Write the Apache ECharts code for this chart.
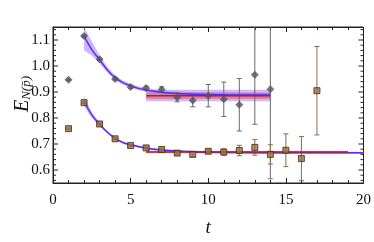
<!DOCTYPE html>
<html><head><meta charset="utf-8">
<script src="https://cdn.jsdelivr.net/npm/echarts@6/dist/echarts.min.js"></script>
<style>html,body{margin:0;padding:0;background:#fff}#c{width:374px;height:242px}</style>
</head><body><div id="c"></div>
<script>
// ---- data ----
const tA = [1,2,3,4,5,6,7,8,9,10,11,12,13,14];
const yA = [0.947,1.115,1.026,0.950,0.919,0.915,0.910,0.879,0.867,0.886,0.872,0.851,0.966,0.911];
const eA = [0.003,0.004,0.004,0.004,0.005,0.007,0.010,0.017,0.024,0.043,0.066,0.101,0.190,0.345];

const tB = [1,2,3,4,5,6,7,8,9,10,11,12,13,14,15,16,17];
const yB = [0.759,0.859,0.777,0.720,0.694,0.685,0.679,0.665,0.660,0.672,0.669,0.675,0.687,0.660,0.676,0.644,0.905];
const eB = [0.002,0.003,0.003,0.003,0.003,0.004,0.005,0.006,0.008,0.008,0.012,0.020,0.030,0.037,0.063,0.085,0.170];

// exponential fit curves
const fitAT  = [2,2.5,3,3.5,4,4.5,5,5.5,6,6.5,7,7.5,8,9,10,11,12,13,14];
const fitAY  = [1.115,1.063,1.024,0.985,0.955,0.936,0.924,0.914,0.908,0.903,0.899,0.896,0.894,0.891,0.890,0.889,0.888,0.888,0.888];
const fitALo = [1.060,1.040,1.010,0.975,0.946,0.928,0.917,0.907,0.900,0.895,0.891,0.888,0.886,0.884,0.882,0.881,0.880,0.880,0.880];
const fitAHi = [1.150,1.095,1.040,0.996,0.964,0.944,0.932,0.922,0.916,0.911,0.907,0.904,0.902,0.899,0.898,0.897,0.896,0.896,0.896];

const fitBT  = [2,2.5,3,3.5,4,4.5,5,5.5,6,7,8,9,10,12,14,16,18,20];
const fitBY  = [0.864,0.812,0.776,0.745,0.722,0.706,0.697,0.690,0.684,0.677,0.673,0.670,0.668,0.667,0.666,0.666,0.666,0.666];
const fitBLo = [0.845,0.800,0.769,0.740,0.718,0.702,0.693,0.686,0.680,0.673,0.669,0.666,0.664,0.663,0.662,0.662,0.662,0.662];
const fitBHi = [0.885,0.823,0.783,0.750,0.727,0.710,0.701,0.694,0.688,0.681,0.677,0.674,0.672,0.671,0.670,0.670,0.670,0.670];

// plateau fits
const platAT = [6,14];  const platAY = 0.886; const platALo = 0.873; const platAHi = 0.898;
const platAWideLo = 0.864; const platAWideHi = 0.909;
const platBT = [6,19];  const platBY = 0.669; const platBLo = 0.664; const platBHi = 0.674;

const xTickLabels = [0,5,10,15,20];
const yTickLabels = [0.6,0.7,0.8,0.9,1.0,1.1];

// ---- chart ----
const SERIF = 'Liberation Serif';
const X_MIN = 0, X_MAX = 20, Y_MIN = 0.55, Y_MAX = 1.15;

function bandSeries(ts, lo, hi, color, z) {
  return {
    type: 'custom', coordinateSystem: 'cartesian2d', clip: true, silent: true, z: z,
    data: [[ts[0], lo[0]]],
    renderItem: function (params, api) {
      const pts = [];
      for (let i = 0; i < ts.length; i++) pts.push(api.coord([ts[i], lo[i]]));
      for (let i = ts.length - 1; i >= 0; i--) pts.push(api.coord([ts[i], hi[i]]));
      return { type: 'polygon', shape: { points: pts }, style: { fill: color } };
    }
  };
}

function errSeries(ts, ys, es, color, z) {
  return {
    type: 'custom', coordinateSystem: 'cartesian2d', clip: true, silent: true, z: z,
    data: ts.map((t, i) => [t, ys[i], ys[i] - es[i], ys[i] + es[i]]),
    encode: { x: 0, y: 1 },
    renderItem: function (params, api) {
      const cs = params.coordSys;
      const lo = api.coord([api.value(0), api.value(2)]);
      const hi = api.coord([api.value(0), api.value(3)]);
      const top = Math.max(hi[1], cs.y);
      const bot = Math.min(lo[1], cs.y + cs.height);
      const w = 2.5;
      const st = { stroke: color, lineWidth: 1 };
      const ch = [{ type: 'line', shape: { x1: lo[0], y1: top, x2: lo[0], y2: bot }, style: st }];
      if (hi[1] >= cs.y) ch.push({ type: 'line', shape: { x1: hi[0] - w, y1: hi[1], x2: hi[0] + w, y2: hi[1] }, style: st });
      if (lo[1] <= cs.y + cs.height) ch.push({ type: 'line', shape: { x1: lo[0] - w, y1: lo[1], x2: lo[0] + w, y2: lo[1] }, style: st });
      return { type: 'group', children: ch };
    }
  };
}

// y tick marks (major at labels, minor every 0.02), drawn inward on left and right
const yTickData = [];
yTickLabels.forEach(v => yTickData.push([X_MIN, v, 5]));
for (let k = 28; k <= 57; k++) { if (k % 5 !== 0) yTickData.push([X_MIN, k * 0.02, 3]); }

const yTickSeries = {
  type: 'custom', coordinateSystem: 'cartesian2d', silent: true, z: 20, clip: false,
  data: yTickData,
  renderItem: function (params, api) {
    const l = api.coord([X_MIN, api.value(1)]);
    const r = api.coord([X_MAX, api.value(1)]);
    const len = api.value(2);
    const st = { stroke: '#222', lineWidth: 1 };
    return { type: 'group', children: [
      { type: 'line', shape: { x1: l[0], y1: l[1], x2: l[0] + len, y2: l[1] }, style: st },
      { type: 'line', shape: { x1: r[0], y1: r[1], x2: r[0] - len, y2: r[1] }, style: st }
    ]};
  }
};

const PURPLE = '#5b2cf2';
const PURPLE_BAND = 'rgba(160,130,255,0.55)';
const RED = '#a8203e';
const RED_BAND = 'rgba(225,90,90,0.55)';

function xAxisCfg(pos) {
  return {
    type: 'value', min: X_MIN, max: X_MAX, interval: 5, position: pos,
    axisLine: { show: true, onZero: false, lineStyle: { color: '#222', width: 1 } },
    axisTick: { show: true, inside: true, length: 5, lineStyle: { color: '#222' } },
    minorTick: { show: true, splitNumber: 5, length: 3, lineStyle: { color: '#222' } },
    splitLine: { show: false },
    axisLabel: pos === 'bottom' ? {
      show: true, margin: 10, fontFamily: SERIF, fontSize: 15, color: '#111',
      formatter: v => (xTickLabels.indexOf(v) >= 0 ? String(v) : '')
    } : { show: false },
    name: pos === 'bottom' ? 't' : '',
    nameLocation: 'middle', nameGap: 35,
    nameTextStyle: { fontFamily: SERIF, fontStyle: 'italic', fontSize: 19, color: '#111' }
  };
}

const option = {
  animation: false,
  backgroundColor: '#fff',
  grid: { left: 53, right: 8, top: 27, bottom: 59, show: true, borderColor: '#222', borderWidth: 1 },
  xAxis: [xAxisCfg('bottom'), xAxisCfg('top')],
  yAxis: {
    type: 'value', min: Y_MIN, max: Y_MAX, interval: 0.05,
    axisLine: { show: true, onZero: false, lineStyle: { color: '#222' } },
    axisTick: { show: false },
    splitLine: { show: false },
    axisLabel: {
      margin: 3, fontFamily: SERIF, fontSize: 15, color: '#111',
      formatter: v => (yTickLabels.some(t => Math.abs(t - v) < 1e-6) ? v.toFixed(1) : '')
    }
  },
  graphic: [{
    type: 'text', x: 21, y: 94, rotation: Math.PI / 2,
    style: {
      text: '{e|E}{s|N(p\u0304)}', align: 'center', verticalAlign: 'middle',
      rich: {
        e: { fontFamily: SERIF, fontStyle: 'italic', fontSize: 20, fill: '#111', verticalAlign: 'bottom', lineHeight: 24 },
        s: { fontFamily: SERIF, fontStyle: 'italic', fontSize: 13, fill: '#111', verticalAlign: 'bottom', lineHeight: 24, padding: [9, 0, 0, 0] }
      }
    }
  }],
  series: [
    // bands
    bandSeries(platAT, [platAWideLo, platAWideLo], [platAWideHi, platAWideHi], PURPLE_BAND, 1),
    bandSeries(fitAT, fitALo, fitAHi, PURPLE_BAND, 2),
    bandSeries(platAT, [platALo, platALo], [platAHi, platAHi], RED_BAND, 3),
    bandSeries(fitBT, fitBLo, fitBHi, PURPLE_BAND, 2),
    bandSeries(platBT, [platBLo, platBLo], [platBHi, platBHi], RED_BAND, 3),
    // error bars
    errSeries(tA, yA, eA, '#6a6a6a', 4),
    errSeries(tB, yB, eB, '#8a6a4a', 4),
    // fit lines
    { type: 'line', data: fitAT.map((t, i) => [t, fitAY[i]]), smooth: 0.4, showSymbol: false, symbol: 'none',
      lineStyle: { color: PURPLE, width: 1.5 }, z: 5, silent: true },
    { type: 'line', data: fitBT.map((t, i) => [t, fitBY[i]]), smooth: 0.4, showSymbol: false, symbol: 'none',
      lineStyle: { color: PURPLE, width: 1.5 }, z: 5, silent: true },
    { type: 'line', data: platAT.map(t => [t, platAY]), showSymbol: false, symbol: 'none',
      lineStyle: { color: RED, width: 1.5 }, z: 6, silent: true },
    { type: 'line', data: platBT.map(t => [t, platBY]), showSymbol: false, symbol: 'none',
      lineStyle: { color: RED, width: 1.5 }, z: 6, silent: true },
    // points
    { type: 'scatter', data: tA.map((t, i) => [t, yA[i]]), symbol: 'diamond', symbolSize: 8,
      itemStyle: { color: '#555555' }, z: 8, silent: true },
    { type: 'scatter', data: tB.map((t, i) => [t, yB[i]]), symbol: 'rect', symbolSize: 6,
      itemStyle: { color: '#9a6e44', borderColor: '#4a2c10', borderWidth: 1 }, z: 8, silent: true },
    yTickSeries
  ]
};

const chart = echarts.init(document.getElementById('c'), null, { renderer: 'canvas' });
chart.setOption(option);
</script>
</body></html>
